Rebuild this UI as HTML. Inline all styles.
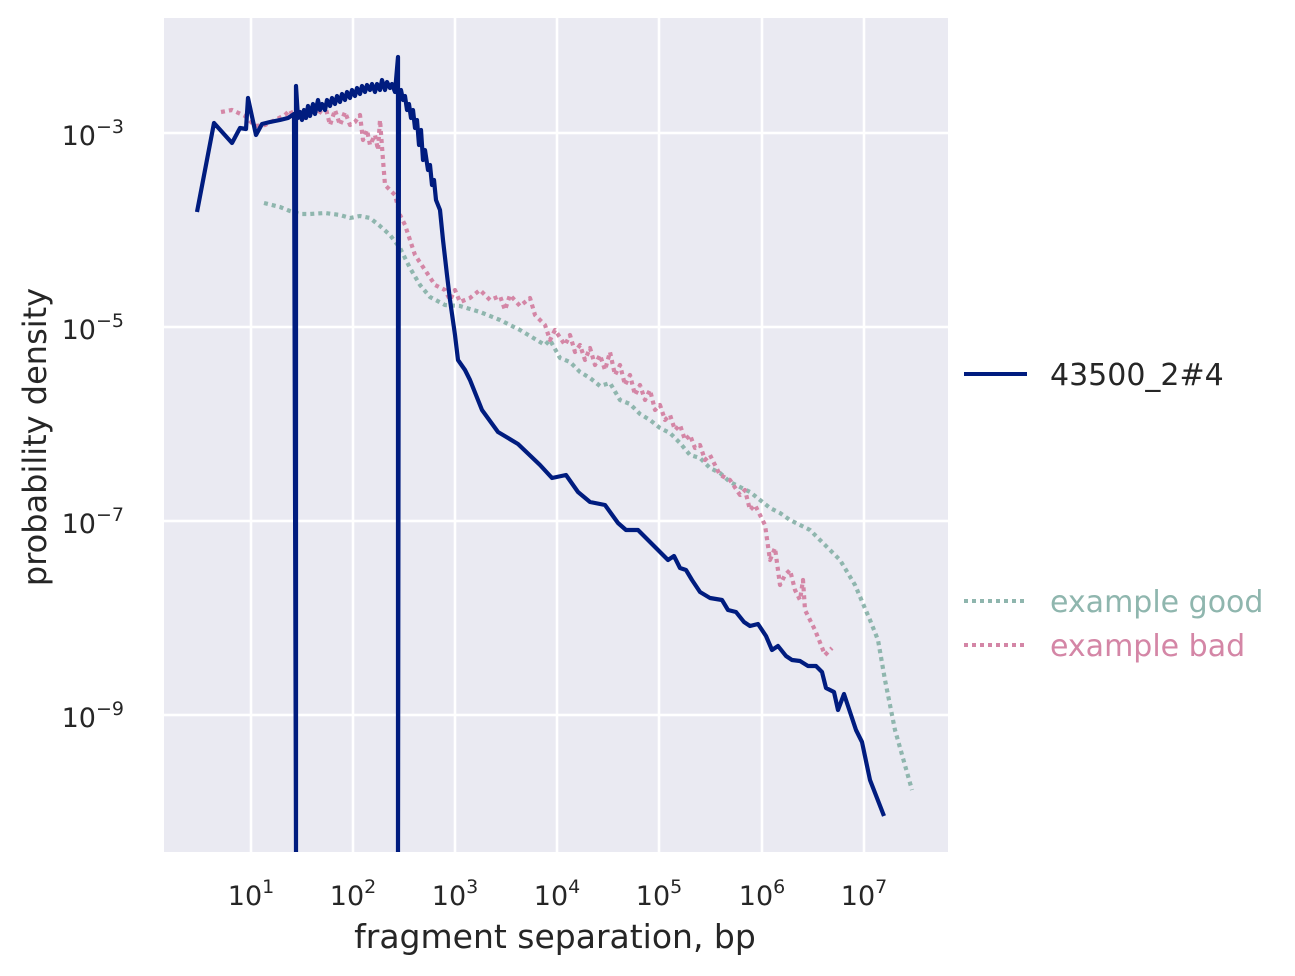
<!DOCTYPE html>
<html><head><style>body{margin:0;background:#fff}svg{display:block}text{font-family:"DejaVu Sans","Liberation Sans",sans-serif;fill:#262626}</style></head><body>
<svg width="1295" height="976" viewBox="0 0 1295 976">
<rect x="164" y="18" width="784" height="834" fill="#eaeaf2"/>
<g stroke="#fff" stroke-width="2.5">
<line x1="251" y1="18" x2="251" y2="852"/><line x1="353" y1="18" x2="353" y2="852"/><line x1="455" y1="18" x2="455" y2="852"/><line x1="557" y1="18" x2="557" y2="852"/><line x1="659" y1="18" x2="659" y2="852"/><line x1="762" y1="18" x2="762" y2="852"/><line x1="864" y1="18" x2="864" y2="852"/>
<line x1="164" y1="133" x2="948" y2="133"/><line x1="164" y1="327" x2="948" y2="327"/><line x1="164" y1="521" x2="948" y2="521"/><line x1="164" y1="715" x2="948" y2="715"/>
</g>
<clipPath id="c"><rect x="164" y="18" width="784" height="834"/></clipPath>
<g clip-path="url(#c)" fill="none" stroke-width="4.2" stroke-linejoin="round">
<polyline stroke="#8fb6ae" stroke-dasharray="4,4" points="264,203 280,207 290,211 300,214 310,214 325,213 340,215 350,218 360,216 370,218 380,226 390,235 400,248 410,268 420,285 430,297 445,305 460,306 480,312 500,320 520,330 540,342 545,345 550,340 560,358 570,362 580,372 590,378 600,386 610,383 620,400 630,404 640,414 650,420 660,428 670,433 680,443 690,455 700,458 710,468 720,473 730,482 740,487 750,492 760,500 770,508 780,513 790,520 800,525 810,530 820,540 830,550 840,560 855,585 870,620 878,640 885,680 895,730 912,790"/>
<polyline stroke="#d486a6" stroke-dasharray="4,4" points="221,112 232,110 245,116 255,126 265,125 275,120 285,115 290,110 295,120 300,112 305,118 310,110 318,115 325,105 330,125 335,110 340,125 345,112 350,125 355,122 360,115 363,140 367,130 370,145 375,135 378,150 380,120 383,160 385,185 395,195 400,215 405,225 415,255 425,270 435,285 445,290 450,300 455,290 460,302 470,298 480,290 490,300 500,296 505,310 510,295 520,306 530,298 535,315 545,325 550,340 555,330 565,345 570,335 575,352 580,345 585,360 590,348 595,365 600,355 605,370 610,352 615,375 620,365 625,385 630,375 635,395 640,385 645,400 650,390 655,410 660,405 665,420 670,415 675,430 680,425 685,440 690,435 695,448 700,445 705,460 710,455 720,475 730,480 740,495 745,490 750,510 755,505 760,515 765,525 770,560 775,548 780,585 785,575 790,570 795,590 800,600 803,580 805,610 815,630 825,655 832,648"/>
<polyline stroke="#001c7f" points="197,212 214,123 232,143 240,128 246,129 248,98 256,135 262,124 270,122 280,120 288,118 294,114 296,852 296,86 298,118 300,112 302,120 304,110 306,118 308,106 310,116 313,104 315,114 318,100 320,110 322,104 325,110 327,100 330,106 332,98 335,104 337,96 340,102 342,94 345,100 347,92 350,98 352,90 355,96 357,88 360,94 362,86 365,92 367,85 370,90 372,84 375,92 377,84 380,90 382,80 385,90 387,82 390,88 392,84 395,92 398,57 398,852 399,95 401,90 403,100 405,96 407,110 409,104 411,118 413,110 415,128 417,120 419,145 421,130 423,160 425,150 428,170 430,165 432,185 434,180 436,200 440,210 443,240 447,275 450,300 455,335 458,360 465,370 470,380 482,410 498,432 518,444 540,465 552,478 566,475 578,492 590,502 605,505 618,523 626,530 638,530 648,540 660,552 668,560 674,556 680,568 686,570 692,580 700,592 710,598 722,600 728,610 736,612 744,622 750,626 758,624 766,636 772,650 778,646 786,656 792,660 800,661 808,666 816,666 822,672 826,688 834,692 838,710 844,694 850,712 856,730 862,742 870,780 884,816"/>
</g>
<g font-size="27" text-anchor="middle">
<text x="251" y="905">10<tspan font-size="19" dy="-12">1</tspan></text>
<text x="353" y="905">10<tspan font-size="19" dy="-12">2</tspan></text>
<text x="455" y="905">10<tspan font-size="19" dy="-12">3</tspan></text>
<text x="557" y="905">10<tspan font-size="19" dy="-12">4</tspan></text>
<text x="659" y="905">10<tspan font-size="19" dy="-12">5</tspan></text>
<text x="762" y="905">10<tspan font-size="19" dy="-12">6</tspan></text>
<text x="864" y="905">10<tspan font-size="19" dy="-12">7</tspan></text>
</g>
<g font-size="27" text-anchor="end">
<text x="124" y="145">10<tspan font-size="19" dy="-12">−3</tspan></text>
<text x="124" y="339">10<tspan font-size="19" dy="-12">−5</tspan></text>
<text x="124" y="533">10<tspan font-size="19" dy="-12">−7</tspan></text>
<text x="124" y="727">10<tspan font-size="19" dy="-12">−9</tspan></text>
</g>
<text x="555" y="948" font-size="33" text-anchor="middle">fragment separation, bp</text>
<text transform="translate(46,437) rotate(-90)" font-size="32" text-anchor="middle">probability density</text>
<line x1="964" y1="374" x2="1027" y2="374" stroke="#001c7f" stroke-width="4"/>
<text x="1050" y="385" font-size="30">43500_2#4</text>
<line x1="964" y1="601" x2="1027" y2="601" stroke="#8fb6ae" stroke-width="4" stroke-dasharray="4,4"/>
<text x="1050" y="612" font-size="30" style="fill:#8fb6ae">example good</text>
<line x1="964" y1="645" x2="1027" y2="645" stroke="#d486a6" stroke-width="4" stroke-dasharray="4,4"/>
<text x="1050" y="656" font-size="30" style="fill:#d486a6">example bad</text>
</svg>
</body></html>
